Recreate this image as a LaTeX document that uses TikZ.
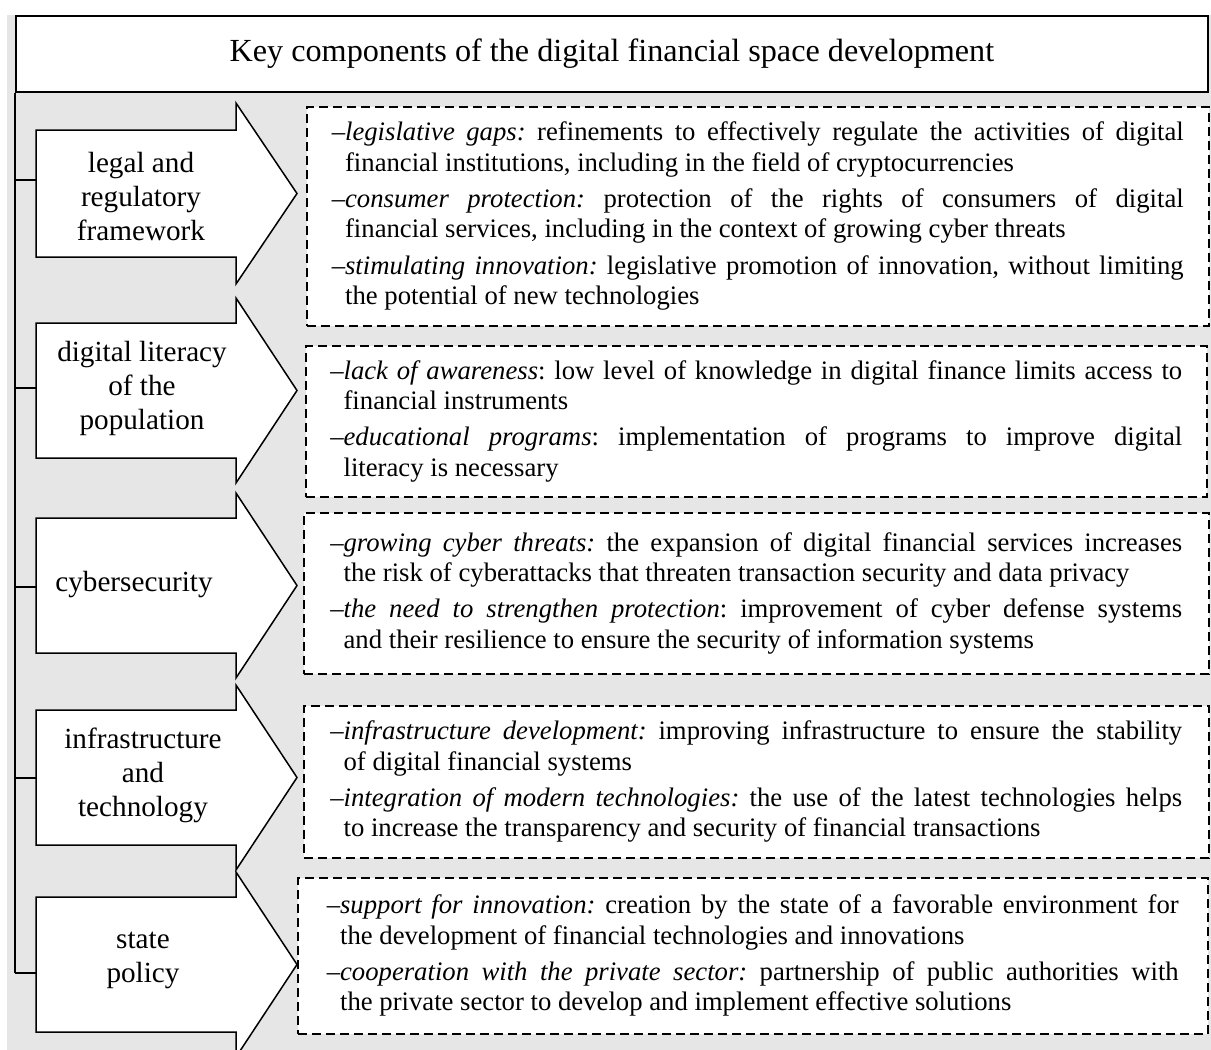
\documentclass[tikz,border=0pt]{standalone}
\usepackage{fontspec}
\setmainfont{Liberation Serif}
\frenchspacing
\definecolor{bggray}{RGB}{230,230,230}
\tikzset{
  titlebox/.style={draw, fill=white, line width=0.9pt, anchor=north west, inner sep=0pt,
    minimum width=596pt, minimum height=38pt, font=\fontsize{16.1}{19}\selectfont},
  arrowbox/.style={draw, fill=white, line width=0.75pt, line join=miter},
  arrowlabel/.style={align=center, inner sep=0pt, font=\fontsize{14.6}{17}\selectfont},
  descbox/.style={draw, fill=white, dash pattern=on 4.5pt off 2.5pt, line width=0.75pt,
    anchor=north west, text width=426pt, inner xsep=0pt, inner ysep=0pt, align=justify,
    font=\fontsize{13.35}{15.2}\selectfont, execute at begin node={\setlength{\parskip}{3pt}}},
  trunk/.style={line width=0.9pt}
}
% one item of a list, hanging after the dash
\newcommand{\entry}[1]{\noindent\hangindent=0.5em\hangafter=1 –#1\par}
% block arrow: top, bottom, head extension
\newcommand{\blockarrow}[3]{%
  \draw[arrowbox] (36,#1) -- (236,#1) -- (236,#1-#3) -- (297,{(#1+#2)/2})
    -- (236,#2+#3) -- (236,#2) -- (36,#2) -- cycle;}
\begin{document}
\begin{tikzpicture}[x=0.5pt, y=-0.5pt]
    \useasboundingbox (0,0) rectangle (1211,1050);
    \clip (0,0) rectangle (1211,1050);
    % Draw the background
    \fill[bggray] (7,15) rectangle (1211,1050);

    % Draw the title
    \node[titlebox] (title) at (15,15) {Key components of the digital financial space development};

    % Draw the arrows
    \blockarrow{130}{257}{27}
    \blockarrow{323}{458}{25}
    \blockarrow{518}{653}{25}
    \blockarrow{710}{845}{25}
    \blockarrow{897}{1032}{25}

    % Draw the labels
    \node[arrowlabel] (legal) at (141,197) {legal and\\regulatory\\framework};
    \node[arrowlabel] (literacy) at (142,388) {digital literacy\\of the\\population};
    \node[arrowlabel] (cyber) at (134,585) {cybersecurity};
    \node[arrowlabel] (infra) at (143,775) {infrastructure\\and\\technology};
    \node[arrowlabel] (policy) at (143,960) {state\\policy};

    % Draw the tails
    \coordinate (legal-tail) at (36,180);
    \coordinate (literacy-tail) at (36,388);
    \coordinate (cyber-tail) at (36,587);
    \coordinate (infra-tail) at (36,778);
    \coordinate (policy-tail) at (36,973);

    % Draw the trunk
    \draw[trunk] (title.south west) -- (title.south west |- policy-tail);
    \foreach \t in {legal,literacy,cyber,infra,policy}
      \draw[trunk] (title.south west |- \t-tail) -- (\t-tail);

    % Draw the descriptions
    \node[descbox, minimum width=451pt, minimum height=109.5pt] (legal-box) at (306,106) {%
      \entry{\textit{legislative gaps:} refinements to effectively regulate the activities of digital\linebreak financial institutions, including in the field of cryptocurrencies}
      \entry{\textit{consumer protection:} protection of the rights of consumers of digital\linebreak financial services, including in the context of growing cyber threats}
      \entry{\textit{stimulating innovation:} legislative promotion of innovation, without limiting\linebreak the potential of new technologies}};
    \node[descbox, minimum width=450.5pt, minimum height=75.5pt] (literacy-box) at (305,345) {%
      \entry{\textit{lack of awareness}: low level of knowledge in digital finance limits access to\linebreak financial instruments}
      \entry{\textit{educational programs}: implementation of programs to improve digital\linebreak literacy is necessary}};
    \node[descbox, minimum width=452.5pt, minimum height=80.5pt] (cyber-box) at (303,512) {%
      \entry{\textit{growing cyber threats:} the expansion of digital financial services increases\linebreak the risk of cyberattacks that threaten transaction security and data privacy}
      \entry{\textit{the need to strengthen protection}: improvement of cyber defense systems\linebreak and their resilience to ensure the security of information systems}};
    \node[descbox, minimum width=452.5pt, minimum height=76pt] (infra-box) at (303,705) {%
      \entry{\textit{infrastructure development:} improving infrastructure to ensure the stability\linebreak of digital financial systems}
      \entry{\textit{integration of modern technologies:} the use of the latest technologies helps\linebreak to increase the transparency and security of financial transactions}};
    \node[descbox, minimum width=455pt, minimum height=78pt] (policy-box) at (297,877) {%
      \entry{\textit{support for innovation:} creation by the state of a favorable environment for\linebreak the development of financial technologies and innovations}
      \entry{\textit{cooperation with the private sector:} partnership of public authorities with\linebreak the private sector to develop and implement effective solutions}};
\end{tikzpicture}
\end{document}
